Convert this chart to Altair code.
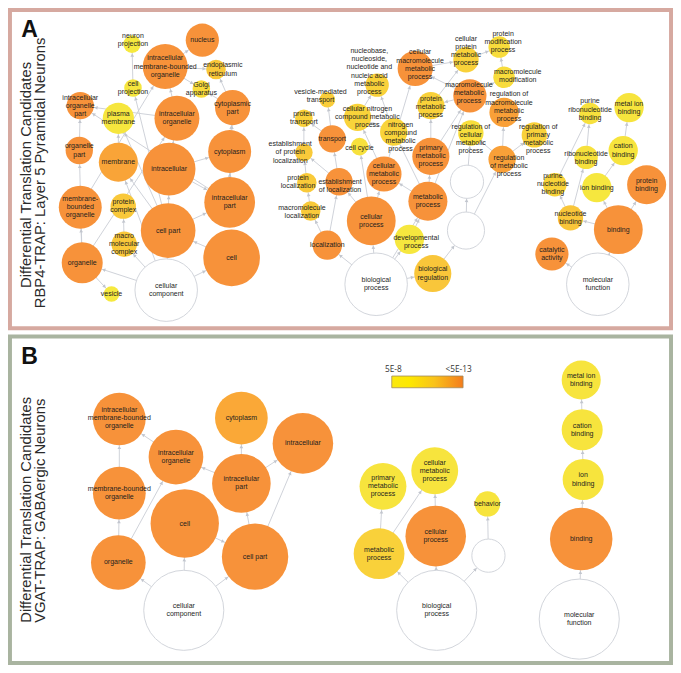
import math
import altair as alt
import pandas as pd

# ---------------- data ----------------
# Network nodes: (id, label, x, y, radius, -log10(p) or None for non-significant, label dx, label dy)
cc_a_nodes = [
    ("a_npj", "neuron\nprojection", 127, 37, 9, 7.5, 1, -4),
    ("a_nuc", "nucleus", 199, 33, 17, 13, 0, 0),
    ("a_imbo", "intracellular\nmembrane-bounded\norganelle", 161, 60, 23, 13, 0, 0),
    ("a_er", "endoplasmic\nreticulum", 213, 63, 10, 9.6, 7, 0),
    ("a_cpj", "cell\nprojection", 128, 82, 9, 7.7, 0, 0),
    ("a_golgi", "Golgi\napparatus", 198, 83, 9, 8.4, 0, 0),
    ("a_iop", "intracellular\norganelle\npart", 74, 100, 14, 13, 0, 0),
    ("a_pm", "plasma\nmembrane", 113, 113, 16, 7.7, 0, 0),
    ("a_io", "intracellular\norganelle", 173, 113, 23, 13, 0, 0),
    ("a_cytp", "cytoplasmic\npart", 230, 102, 18, 13, 0, 0),
    ("a_op", "organelle\npart", 73, 146, 14, 13, 0, 0),
    ("a_mem", "membrane", 113, 158, 20, 11.4, 0, 0),
    ("a_ic", "intracellular", 165, 165, 27, 13, 0, 0),
    ("a_cyto", "cytoplasm", 227, 147, 22, 13, 0, 0),
    ("a_mbo", "membrane-\nbounded\norganelle", 74, 204, 22, 13, 0, 0),
    ("a_pc", "protein\ncomplex", 118, 203, 13, 9.6, 0, 0),
    ("a_icp", "intracellular\npart", 227, 199, 26, 13, 0, 0),
    ("a_mmc", "macro\nmolecular\ncomplex", 119, 242, 13, 9.6, 0, 0),
    ("a_cpart", "cell part", 164, 228, 28, 13, 0, 0),
    ("a_org", "organelle", 76, 261, 21, 13, 0, 0),
    ("a_cell", "cell", 229, 256, 29, 13, 0, 0),
    ("a_ves", "vesicle", 106, 293, 8, 7.5, 0, 0),
    ("a_cc", "cellular\ncomponent", 162, 289, 32, None, 0, 0),
]
bp_a_nodes = [
    ("a_nacid", "nucleobase,\nnucleoside,\nnucleotide and\nnucleic acid\nmetabolic\nprocess", 378, 79, 12, 9.0, -8, -14),
    ("a_vmt", "vesicle-mediated\ntransport", 327, 94, 8, 9.3, -7, -4),
    ("a_pt", "protein\ntransport", 303, 113, 9, 9.0, 0, 0),
    ("a_cncmp", "cellular nitrogen\ncompound metabolic\nprocess", 358, 112, 14, 8.9, 10, 0),
    ("a_trans", "transport", 332, 134, 14, 13, 0, 0),
    ("a_ncmp", "nitrogen\ncompound\nmetabolic\nprocess", 395, 127, 14, 8.8, 7, 5),
    ("a_ccyc", "cell cycle", 360, 142, 9, 8.0, 0, 1),
    ("a_epl", "establishment\nof protein\nlocalization", 303, 148, 9, 9.5, -14, 0),
    ("a_pl", "protein\nlocalization", 306, 179, 10, 9.5, -9, -1),
    ("a_eol", "establishment\nof localization", 339, 178, 14, 13, 1, 4),
    ("a_ml", "macromolecule\nlocalization", 310, 208, 10, 9.5, -9, 1),
    ("a_loc", "localization", 327, 243, 15, 13, 0, 0),
    ("a_cmp", "cellular\nmetabolic\nprocess", 385, 170, 18, 13, 0, 0),
    ("a_pmp", "primary\nmetabolic\nprocess", 433, 152, 19, 13, 0, 0),
    ("a_cproc", "cellular\nprocess", 372, 218, 25, 13, 0, 0),
    ("a_mp", "metabolic\nprocess", 430, 198, 20, 13, 0, 0),
    ("a_dev", "developmental\nprocess", 411, 237, 15, 7.6, 7, 3),
    ("a_bp", "biological\nprocess", 377, 283, 32, None, 0, 0),
    ("a_breg", "biological\nregulation", 435, 272, 19, 9.7, 0, 0),
    ("a_w1", "", 470, 178, 17, None, 0, 0),
    ("a_w2", "", 469, 228, 19, None, 0, 0),
    ("a_cmmp", "cellular\nmacromolecule\nmetabolic\nprocess", 417, 62, 18, 13, 5, -4),
    ("a_cprmp", "cellular\nprotein\nmetabolic\nprocess", 469, 53, 13, 9.0, 0, -9),
    ("a_pmodp", "protein\nmodification\nprocess", 503, 40, 11, 8.3, 4, -5),
    ("a_mmod", "macromolecule\nmodification", 508, 71, 11, 8.3, 14, -1),
    ("a_mmp", "macromolecule\nmetabolic\nprocess", 473, 90, 17, 13, -1, -3),
    ("a_prmp", "protein\nmetabolic\nprocess", 433, 100, 14, 9.0, 0, 1),
    ("a_rmmp", "regulation of\nmacromolecule\nmetabolic\nprocess", 508, 107, 15, 11.6, 5, -6),
    ("a_rcmp", "regulation of\ncellular\nmetabolic\nprocess", 474, 128, 13, 8.2, 0, 6),
    ("a_rpmp", "regulation of\nprimary\nmetabolic\nprocess", 539, 130, 13, 9.0, 4, 4),
    ("a_rmp", "regulation\nof metabolic\nprocess", 506, 155, 14, 11.6, 7, 7),
]
mf_a_nodes = [
    ("a_prb", "purine\nribonucleotide\nbinding", 596, 108, 11, 8.0, 0, -4),
    ("a_mib", "metal ion\nbinding", 636, 102, 15, 7.8, 0, 0),
    ("a_rb", "ribonucleotide\nbinding", 592, 153, 12, 8.0, 0, 1),
    ("a_cab", "cation\nbinding", 630, 146, 15, 7.8, 0, 0),
    ("a_pnb", "purine\nnucleotide\nbinding", 560, 181, 12, 8.8, -2, -1),
    ("a_ib", "ion binding", 603, 184, 15, 7.6, 0, 0),
    ("a_pb", "protein\nbinding", 654, 181, 20, 13, 0, 0),
    ("a_nb", "nucleotide\nbinding", 576, 215, 13, 9.7, 0, 0),
    ("a_bind", "binding", 625, 227, 25, 13, 0, 0),
    ("a_cat", "catalytic\nactivity", 557, 252, 17, 13, 0, 0),
    ("a_mf", "molecular\nfunction", 604, 283, 32, None, 0, 0),
]
cc_b_nodes = [
    ("b_imbo", "intracellular\nmembrane-bounded\norganelle", 114, 421, 27, 13, 0, -1),
    ("b_cyto", "cytoplasm", 239, 420, 27, 11.2, 0, 0),
    ("b_ic", "intracellular", 302, 446, 31, 13, 0, 0),
    ("b_io", "intracellular\norganelle", 172, 460, 28, 13, 0, 0),
    ("b_icp", "intracellular\npart", 239, 487, 30, 13, 0, 0),
    ("b_mbo", "membrane-bounded\norganelle", 114, 497, 27, 13, 0, 0),
    ("b_cell", "cell", 181, 528, 35, 13, 0, 1),
    ("b_cpart", "cell part", 253, 562, 34, 13, 0, 0),
    ("b_org", "organelle", 113, 568, 28, 13, 0, 0),
    ("b_cc", "cellular\ncomponent", 180, 617, 41, None, 0, 0),
]
bp_b_nodes = [
    ("b_pmp", "primary\nmetabolic\nprocess", 384, 490, 24, 7.8, 0, 0),
    ("b_cmp", "cellular\nmetabolic\nprocess", 437, 474, 24, 7.8, 0, 0),
    ("b_behav", "behavior", 491, 508, 13, 7.8, 0, 0),
    ("b_mp", "metabolic\nprocess", 380, 559, 26, 9.0, 0, 0),
    ("b_cproc", "cellular\nprocess", 438, 541, 31, 13, 0, 0),
    ("b_w", "", 492, 561, 17, None, 0, 0),
    ("b_bp", "biological\nprocess", 439, 617, 41, None, 0, 0),
]
mf_b_nodes = [
    ("b_mib", "metal ion\nbinding", 587, 381, 20, 7.8, 0, 0),
    ("b_cab", "cation\nbinding", 588, 432, 21, 7.8, 0, 0),
    ("b_ib", "ion\nbinding", 589, 483, 21, 7.8, 0, 0),
    ("b_bind", "binding", 587, 544, 32, 13, 0, 0),
    ("b_mf", "molecular\nfunction", 585, 626, 41, None, 0, 0),
]

# Edges (parent -> child)
cc_a_edges = [
    ("a_cc", "a_cell"), ("a_cc", "a_cpart"), ("a_cc", "a_org"), ("a_cc", "a_mmc"), ("a_cc", "a_mem"),
    ("a_cell", "a_cpart"), ("a_cpart", "a_ic"), ("a_cpart", "a_icp"), ("a_cpart", "a_mem"),
    ("a_cpart", "a_pm"), ("a_cpart", "a_cpj"), ("a_org", "a_mbo"), ("a_org", "a_io"),
    ("a_org", "a_op"), ("a_org", "a_ves"), ("a_mbo", "a_imbo"), ("a_ic", "a_icp"),
    ("a_ic", "a_io"), ("a_ic", "a_cyto"), ("a_icp", "a_cyto"), ("a_icp", "a_cytp"),
    ("a_icp", "a_iop"), ("a_io", "a_imbo"), ("a_io", "a_iop"), ("a_op", "a_iop"),
    ("a_imbo", "a_nuc"), ("a_imbo", "a_er"), ("a_imbo", "a_golgi"), ("a_cytp", "a_er"),
    ("a_cytp", "a_golgi"), ("a_mmc", "a_pc"), ("a_mem", "a_pm"), ("a_cpj", "a_npj"),
    ("a_cyto", "a_cytp"),
]
bp_a_edges = [
    ("a_bp", "a_cproc"), ("a_bp", "a_mp"), ("a_bp", "a_loc"), ("a_bp", "a_dev"), ("a_bp", "a_breg"),
    ("a_loc", "a_eol"), ("a_loc", "a_ml"), ("a_ml", "a_pl"), ("a_pl", "a_epl"),
    ("a_eol", "a_trans"), ("a_eol", "a_epl"), ("a_trans", "a_pt"), ("a_trans", "a_vmt"),
    ("a_epl", "a_pt"), ("a_cproc", "a_cmp"), ("a_cproc", "a_ccyc"), ("a_cproc", "a_eol"),
    ("a_mp", "a_pmp"), ("a_mp", "a_cmp"), ("a_mp", "a_ncmp"), ("a_mp", "a_mmp"),
    ("a_cmp", "a_cncmp"), ("a_cmp", "a_cmmp"), ("a_ncmp", "a_cncmp"), ("a_ncmp", "a_nacid"),
    ("a_cncmp", "a_nacid"), ("a_pmp", "a_mmp"), ("a_pmp", "a_prmp"), ("a_mmp", "a_cmmp"),
    ("a_mmp", "a_prmp"), ("a_mmp", "a_mmod"), ("a_prmp", "a_cprmp"), ("a_cmmp", "a_cprmp"),
    ("a_cprmp", "a_pmodp"), ("a_mmod", "a_pmodp"), ("a_breg", "a_w2"), ("a_w2", "a_w1"),
    ("a_w2", "a_rmp"), ("a_w1", "a_rcmp"), ("a_rmp", "a_rmmp"), ("a_rmp", "a_rpmp"),
    ("a_rmp", "a_rcmp"), ("a_dev", "a_mp"),
]
mf_a_edges = [
    ("a_mf", "a_bind"), ("a_mf", "a_cat"), ("a_bind", "a_pb"), ("a_bind", "a_ib"),
    ("a_bind", "a_nb"), ("a_ib", "a_cab"), ("a_cab", "a_mib"), ("a_nb", "a_pnb"),
    ("a_nb", "a_rb"), ("a_pnb", "a_prb"), ("a_rb", "a_prb"),
]
cc_b_edges = [
    ("b_cc", "b_cell"), ("b_cc", "b_cpart"), ("b_cc", "b_org"), ("b_org", "b_mbo"),
    ("b_org", "b_io"), ("b_mbo", "b_imbo"), ("b_io", "b_imbo"), ("b_cell", "b_cpart"),
    ("b_cpart", "b_icp"), ("b_cpart", "b_ic"), ("b_icp", "b_cyto"), ("b_icp", "b_io"),
    ("b_icp", "b_ic"),
]
bp_b_edges = [
    ("b_bp", "b_mp"), ("b_bp", "b_cproc"), ("b_bp", "b_w"), ("b_mp", "b_pmp"),
    ("b_mp", "b_cmp"), ("b_cproc", "b_cmp"), ("b_w", "b_behav"),
]
mf_b_edges = [("b_mf", "b_bind"), ("b_bind", "b_ib"), ("b_ib", "b_cab"), ("b_cab", "b_mib")]

panel_letters = ["A", "B"]
panel_titles = [
    ["Differential Translation Candidates", "RBP4-TRAP: Layer 5 Pyramidal Neurons"],
    ["Differential Translation Candidates", "VGAT-TRAP: GABAergic Neurons"],
]
legend_labels = ["5E-8", "<5E-13"]
sig_domain = [7.3, 9.6, 12.3]

# ---------------- layout (pixels of the 681x673 figure) ----------------
W_IMG, H_IMG = 681, 673
W, H = 665, 657
K = W / W_IMG
LINE_H = 8.1

frames = pd.DataFrame({
    "x": [2, 2], "x2": [679, 679], "y": [2, 336.5], "y2": [328, 671],
    "c": ["#d6a9a0", "#a9b4a0"],
})
title_pos = [[(19, 171), (34, 169)], [(19, 514), (34, 515)]]
letter_pos = [(22, 30), (22, 365)]
legend_box = pd.DataFrame({"x": [393], "x2": [466], "y": [377], "y2": [389]})
legend_lab_pos = [(386, 373), (448, 373)]

# ---------------- build tables ----------------
all_nodes = cc_a_nodes + bp_a_nodes + mf_a_nodes + cc_b_nodes + bp_b_nodes + mf_b_nodes
nodes = pd.DataFrame(all_nodes, columns=["id", "label", "x", "y", "r", "sig", "dx", "dy"])
nodes["size"] = 4 * (nodes["r"] * K) ** 2
nodes["nl"] = nodes["label"].str.count("\n")
nodes["lx"] = nodes["x"] + nodes["dx"]
# Vega puts the first line at the anchor; shift so the block is centred
nodes["ly"] = nodes["y"] + nodes["dy"] - nodes["nl"] * LINE_H / 2 / K
col_nodes = nodes[nodes["sig"].notna()].copy()
white_nodes = nodes[nodes["sig"].isna()].copy()

pos = {n[0]: (n[2], n[3], n[4]) for n in all_nodes}
rows = []
for s, t in cc_a_edges + bp_a_edges + mf_a_edges + cc_b_edges + bp_b_edges + mf_b_edges:
    xs_, ys_, rs = pos[s]
    xt, yt, rt = pos[t]
    L = math.hypot(xt - xs_, yt - ys_)
    ux, uy = (xt - xs_) / L, (yt - ys_) / L
    ax, ay = xt - ux * (rt + 2.2), yt - uy * (rt + 2.2)
    ang = math.degrees(math.atan2(ux, -uy)) % 360
    rows.append({"x": xs_, "y": ys_, "x2": xt, "y2": yt, "ax": ax, "ay": ay, "ang": ang})
edges = pd.DataFrame(rows)

titles = pd.DataFrame([
    {"t": panel_titles[i][j], "x": title_pos[i][j][0], "y": title_pos[i][j][1]}
    for i in range(2) for j in range(2)
])
letters = pd.DataFrame([{"t": panel_letters[i], "x": letter_pos[i][0], "y": letter_pos[i][1]} for i in range(2)])
leg_labels = pd.DataFrame([{"t": legend_labels[i], "x": legend_lab_pos[i][0], "y": legend_lab_pos[i][1]} for i in range(2)])

# ---------------- chart ----------------
xs = alt.Scale(domain=[0, W_IMG], nice=False, zero=False)
ys = alt.Scale(domain=[0, H_IMG], nice=False, zero=False, reverse=True)
X = lambda f: alt.X(f, type="quantitative", scale=xs, axis=None)
Y = lambda f: alt.Y(f, type="quantitative", scale=ys, axis=None)
FONT = "Liberation Sans"

frame_layer = alt.Chart(frames).mark_rect(filled=False, strokeWidth=4).encode(
    x=X("x"), x2="x2", y=Y("y"), y2="y2", stroke=alt.Color("c:N", scale=None)
)
edge_layer = alt.Chart(edges).mark_rule(color="#c9cdd5", strokeWidth=0.9).encode(
    x=X("x"), y=Y("y"), x2="x2", y2="y2"
)
arrow_layer = alt.Chart(edges).mark_point(shape="triangle-up", filled=True, color="#c2c6ce", opacity=1, size=14).encode(
    x=X("ax"), y=Y("ay"), angle=alt.Angle("ang:Q", scale=None)
)
white_layer = alt.Chart(white_nodes).mark_point(shape="circle", filled=True, fill="white", stroke="#d3d6dc", strokeWidth=1, opacity=1).encode(
    x=X("x"), y=Y("y"), size=alt.Size("size:Q", scale=None)
)
node_layer = alt.Chart(col_nodes).mark_point(shape="circle", filled=True, opacity=1, strokeWidth=0).encode(
    x=X("x"), y=Y("y"), size=alt.Size("size:Q", scale=None),
    color=alt.Color("sig:Q", scale=alt.Scale(domain=sig_domain, range=["#f5ec40", "#f9c83a", "#f7923a"], clamp=True), legend=None),
)
label_layer = alt.Chart(nodes).mark_text(
    font=FONT, fontSize=7.0, lineHeight=LINE_H, lineBreak="\n", align="center", baseline="middle", color="#1e1e1e"
).encode(x=X("lx"), y=Y("ly"), text="label:N")

title_layer = alt.Chart(titles).mark_text(
    font=FONT, fontSize=14.8, angle=270, align="center", baseline="middle", color="#2a2a2a"
).encode(x=X("x"), y=Y("y"), text="t:N")
letter_layer = alt.Chart(letters).mark_text(
    font=FONT, fontSize=23, fontWeight="bold", align="center", baseline="alphabetic", color="#111"
).encode(x=X("x"), y=Y("y"), text="t:N")

grad = alt.Gradient(
    gradient="linear",
    stops=[
        alt.GradientStop(color="#fbe810", offset=0),
        alt.GradientStop(color="#fde800", offset=0.25),
        alt.GradientStop(color="#f9c21a", offset=0.6),
        alt.GradientStop(color="#f47c1c", offset=1),
    ],
    x1=0, x2=1, y1=0, y2=0,
)
legend_bar = alt.Chart(legend_box).mark_rect(fill=grad, stroke="#a08a5a", strokeWidth=0.8).encode(
    x=X("x"), x2="x2", y=Y("y"), y2="y2"
)
legend_text = alt.Chart(leg_labels).mark_text(
    font="Open Sans", fontSize=8.3, align="left", baseline="alphabetic", color="#333"
).encode(x=X("x"), y=Y("y"), text="t:N")

chart = alt.layer(
    frame_layer, edge_layer, arrow_layer, white_layer, node_layer, label_layer,
    title_layer, letter_layer, legend_bar, legend_text,
).properties(
    width=W, height=H, autosize=alt.AutoSizeParams(type="none"), padding=0,
).configure_view(stroke=None)

chart.save("out.html", embed_options={"renderer": "svg", "actions": False})
